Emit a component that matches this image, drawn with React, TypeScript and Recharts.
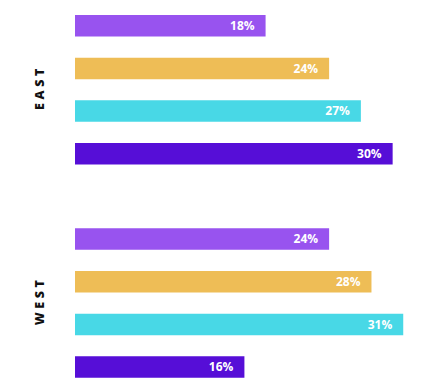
import React from 'react';
import { BarChart, Bar, XAxis, YAxis, Cell, LabelList, ReferenceArea } from 'recharts';

const groups = ['EAST', 'WEST'];
const segments = ['S1', 'S2', 'S3', 'S4'];
const eastValues = [18, 24, 27, 30];
const westValues = [24, 28, 31, 16];
const segmentColors = ['#9853EF', '#EEBD56', '#48D8E6', '#560ED7'];

type Row = { name: string; value: number | null; color: string };

const rows: Row[] = [
  ...segments.map((s, i) => ({ name: `${groups[0]}-${s}`, value: eastValues[i], color: segmentColors[i] })),
  { name: 'gap', value: null, color: 'transparent' },
  ...segments.map((s, i) => ({ name: `${groups[1]}-${s}`, value: westValues[i], color: segmentColors[i] })),
];

const FONT = '"Open Sans", Lato, sans-serif';
const LETTER_SPACING = 3.6;

const groupLabel = (text: string) => (props: any) => {
  const vb = props.viewBox || {};
  const cy = (vb.y ?? 0) + (vb.height ?? 0) / 2;
  const cx = 40;
  return (
    <text
      x={cx}
      y={cy}
      dx={LETTER_SPACING / 2}
      transform={`rotate(-90, ${cx}, ${cy})`}
      textAnchor="middle"
      dominantBaseline="central"
      fontFamily={FONT}
      fontWeight={800}
      fontSize={12.5}
      letterSpacing={LETTER_SPACING}
      fill="#111"
    >
      {text}
    </text>
  );
};

export default function App() {
  return (
    <div style={{ position: 'absolute', left: 0, top: 0, background: '#fff' }}>
      <BarChart
        width={442}
        height={389}
        data={rows}
        layout="vertical"
        margin={{ top: 4, right: 7, bottom: 1, left: 75 }}
        barSize={21.5}
      >
        <XAxis type="number" domain={[0, 34]} hide allowDataOverflow />
        <YAxis type="category" dataKey="name" hide />
        {groups.map((g) => (
          <ReferenceArea
            key={g}
            x1={0}
            x2={34}
            y1={`${g}-${segments[0]}`}
            y2={`${g}-${segments[segments.length - 1]}`}
            fill="none"
            fillOpacity={0}
            stroke="none"
            ifOverflow="visible"
            label={groupLabel(g)}
          />
        ))}
        <Bar dataKey="value" isAnimationActive={false}>
          {rows.map((r, i) => (
            <Cell key={i} fill={r.color} />
          ))}
          <LabelList
            dataKey="value"
            position="insideRight"
            offset={11}
            fill="#fff"
            fontFamily={FONT}
            fontWeight={700}
            fontSize={12}
            formatter={(v: any) => (v == null ? '' : `${v}%`)}
          />
        </Bar>
      </BarChart>
    </div>
  );
}
